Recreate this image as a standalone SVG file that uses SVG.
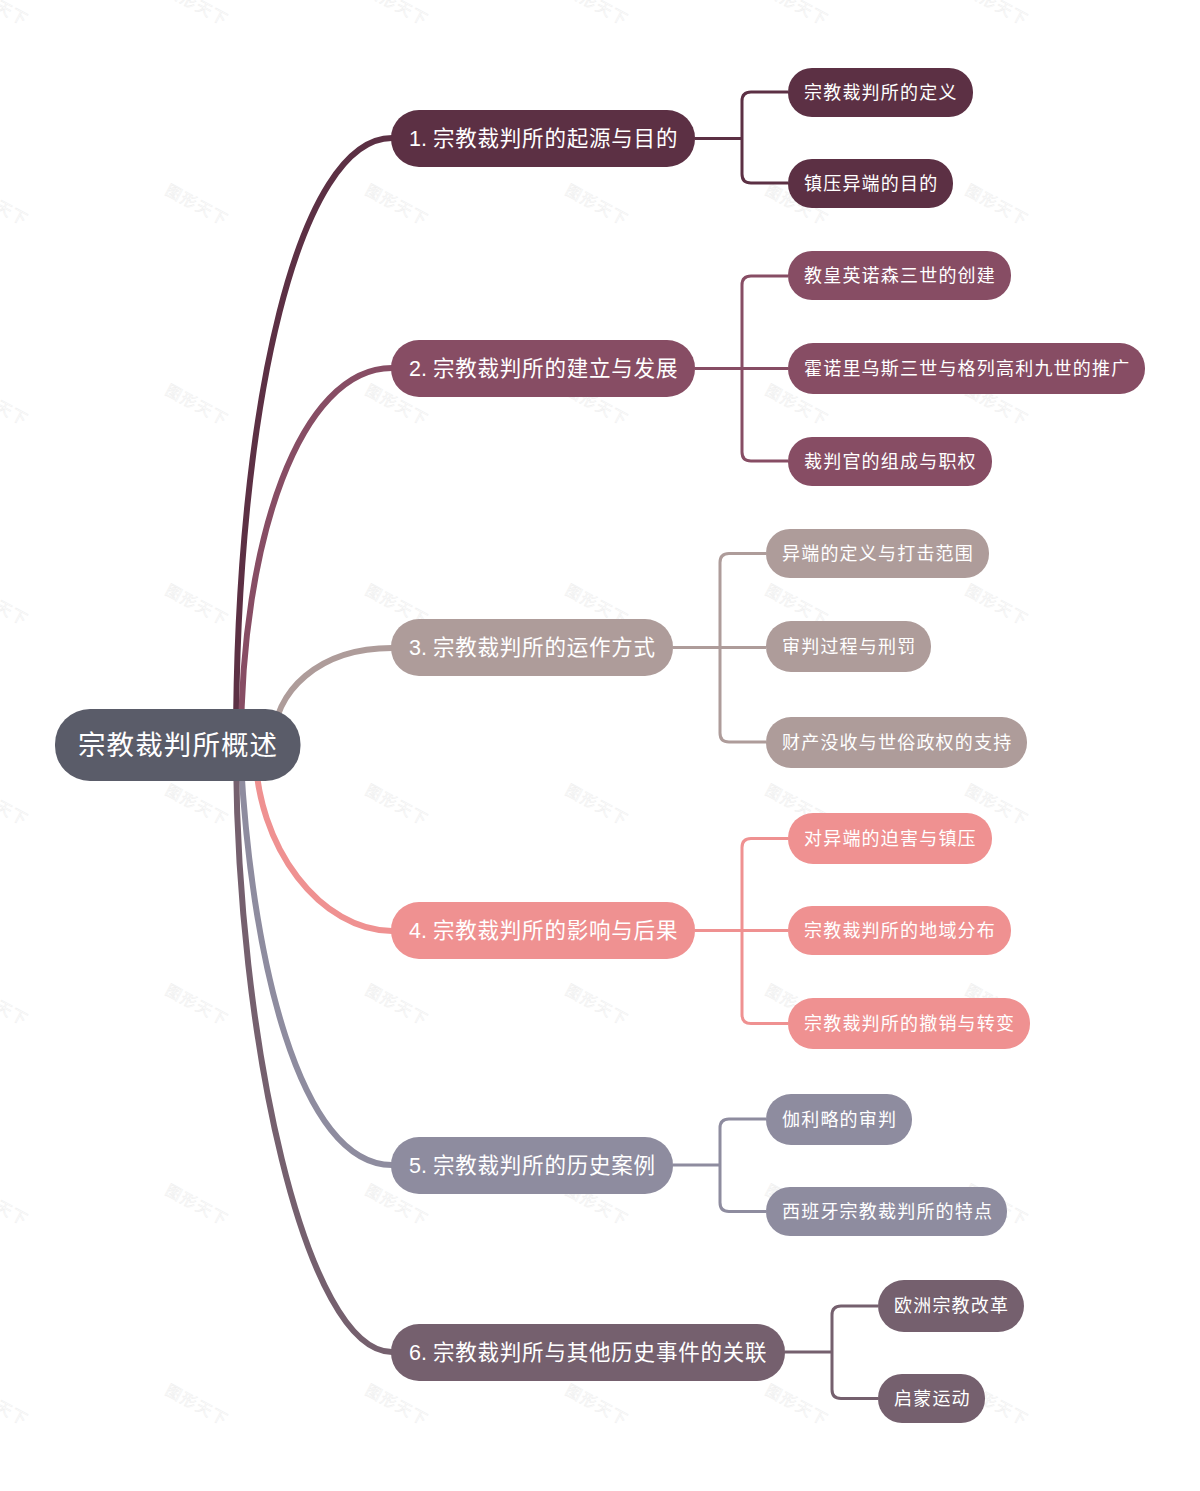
<svg xmlns="http://www.w3.org/2000/svg" width="1200" height="1491" viewBox="0 0 1200 1491">
<style>
text{font-family:"Liberation Sans","Noto Sans CJK SC",sans-serif;fill:#fff;dominant-baseline:central}
.r{font-size:27.5px;letter-spacing:1.1px}
.a{font-size:21.5px}
.a tspan{letter-spacing:.8px}
.b{font-size:18px;letter-spacing:1.2px}
#wmt{font-size:15.500px;fill:#fff;stroke:#eee;stroke-width:.5px;letter-spacing:1.6px;text-anchor:middle}
.c{fill:none;stroke-width:6px}
.e{fill:none;stroke-width:3px}
.c1{fill:#5c3044}.c2{fill:#874d64}.c3{fill:#ae9c9a}.c4{fill:#ef9191}.c5{fill:#8e8c9f}.c6{fill:#75606e}
.s1{stroke:#5c3044}.s2{stroke:#874d64}.s3{stroke:#ae9c9a}.s4{stroke:#ef9191}.s5{stroke:#8e8c9f}.s6{stroke:#75606e}
</style>
<defs>
<text id="wmt" transform="rotate(28)">图形天下</text>
</defs>
<rect width="1200" height="1491" fill="#fff"/>
<g id="watermark">
<use href="#wmt" x="-3" y="5"/><use href="#wmt" x="197" y="5"/><use href="#wmt" x="397" y="5"/><use href="#wmt" x="597" y="5"/><use href="#wmt" x="797" y="5"/><use href="#wmt" x="997" y="5"/>
<use href="#wmt" x="-3" y="205"/><use href="#wmt" x="197" y="205"/><use href="#wmt" x="397" y="205"/><use href="#wmt" x="597" y="205"/><use href="#wmt" x="797" y="205"/><use href="#wmt" x="997" y="205"/>
<use href="#wmt" x="-3" y="405"/><use href="#wmt" x="197" y="405"/><use href="#wmt" x="397" y="405"/><use href="#wmt" x="597" y="405"/><use href="#wmt" x="797" y="405"/><use href="#wmt" x="997" y="405"/>
<use href="#wmt" x="-3" y="605"/><use href="#wmt" x="197" y="605"/><use href="#wmt" x="397" y="605"/><use href="#wmt" x="597" y="605"/><use href="#wmt" x="797" y="605"/><use href="#wmt" x="997" y="605"/>
<use href="#wmt" x="-3" y="805"/><use href="#wmt" x="197" y="805"/><use href="#wmt" x="397" y="805"/><use href="#wmt" x="597" y="805"/><use href="#wmt" x="797" y="805"/><use href="#wmt" x="997" y="805"/>
<use href="#wmt" x="-3" y="1005"/><use href="#wmt" x="197" y="1005"/><use href="#wmt" x="397" y="1005"/><use href="#wmt" x="597" y="1005"/><use href="#wmt" x="797" y="1005"/><use href="#wmt" x="997" y="1005"/>
<use href="#wmt" x="-3" y="1205"/><use href="#wmt" x="197" y="1205"/><use href="#wmt" x="397" y="1205"/><use href="#wmt" x="597" y="1205"/><use href="#wmt" x="797" y="1205"/><use href="#wmt" x="997" y="1205"/>
<use href="#wmt" x="-3" y="1405"/><use href="#wmt" x="197" y="1405"/><use href="#wmt" x="397" y="1405"/><use href="#wmt" x="597" y="1405"/><use href="#wmt" x="797" y="1405"/><use href="#wmt" x="997" y="1405"/>
</g>
<g id="connectors">
<path class="c s1" d="M236 745C236 400 300 138 392 138"/>
<path class="c s2" d="M241 745C241 540 300 368 392 368"/>
<path class="c s3" d="M273 745C273 690 320 648 392 648"/>
<path class="c s4" d="M255 745C255 850 323 931 392 931"/>
<path class="c s5" d="M240 745C250 960 300 1165 392 1165"/>
<path class="c s6" d="M236 745C236 1040 306 1352 392 1352"/>
<path class="e s1" d="M695 138.500H742M788 92H751Q742 92 742 101V174Q742 183 751 183H788"/>
<path class="e s2" d="M695 368.500H788M788 276H751Q742 276 742 285V452Q742 461 751 461H788"/>
<path class="e s3" d="M673 647.500H766M766 553.500H729Q720 553.500 720 562.500V733Q720 742 729 742H766"/>
<path class="e s4" d="M695 930.500H788M788 838.500H751Q742 838.500 742 847.500V1014.500Q742 1023.500 751 1023.500H788"/>
<path class="e s5" d="M673 1165H720M766 1119H729Q720 1119 720 1128V1202.500Q720 1211.500 729 1211.500H766"/>
<path class="e s6" d="M785 1352H832M878 1306H841Q832 1306 832 1315V1389.500Q832 1398.500 841 1398.500H878"/>
</g>
<g id="root"><rect x="55" y="709" width="245.500" height="72" rx="35" fill="#5a5c69"/><text class="r" x="78" y="745">宗教裁判所概述</text></g>
<g id="n1"><rect class="c1" x="391" y="110" width="304" height="57" rx="28"/><text class="a" x="409" y="138.500">1. <tspan>宗教裁判所的起源与目的</tspan></text></g>
<g id="n1-1"><rect class="c1" x="788" y="68" width="185" height="49" rx="24"/><text class="b" x="804" y="92.500">宗教裁判所的定义</text></g>
<g id="n1-2"><rect class="c1" x="788" y="159" width="165" height="49" rx="24"/><text class="b" x="804" y="183.500">镇压异端的目的</text></g>
<g id="n2"><rect class="c2" x="391" y="340" width="304" height="57" rx="28"/><text class="a" x="409" y="368.500">2. <tspan>宗教裁判所的建立与发展</tspan></text></g>
<g id="n2-1"><rect class="c2" x="788" y="251" width="223" height="49" rx="24"/><text class="b" x="804" y="276">教皇英诺森三世的创建</text></g>
<g id="n2-2"><rect class="c2" x="788" y="343" width="357" height="51" rx="25"/><text class="b" x="804" y="369">霍诺里乌斯三世与格列高利九世的推广</text></g>
<g id="n2-3"><rect class="c2" x="788" y="437" width="204" height="49" rx="24"/><text class="b" x="804" y="461.500">裁判官的组成与职权</text></g>
<g id="n3"><rect class="c3" x="391" y="619" width="282" height="57" rx="28"/><text class="a" x="409" y="647.500">3. <tspan>宗教裁判所的运作方式</tspan></text></g>
<g id="n3-1"><rect class="c3" x="766" y="529" width="223" height="49" rx="24"/><text class="b" x="782" y="553.500">异端的定义与打击范围</text></g>
<g id="n3-2"><rect class="c3" x="766" y="621" width="165" height="51" rx="25"/><text class="b" x="782" y="647">审判过程与刑罚</text></g>
<g id="n3-3"><rect class="c3" x="766" y="717" width="261" height="51" rx="25"/><text class="b" x="782" y="743">财产没收与世俗政权的支持</text></g>
<g id="n4"><rect class="c4" x="391" y="902" width="304" height="57" rx="28"/><text class="a" x="409" y="930.500">4. <tspan>宗教裁判所的影响与后果</tspan></text></g>
<g id="n4-1"><rect class="c4" x="788" y="813" width="204" height="51" rx="25"/><text class="b" x="804" y="839">对异端的迫害与镇压</text></g>
<g id="n4-2"><rect class="c4" x="788" y="906" width="223" height="49" rx="24"/><text class="b" x="804" y="930.500">宗教裁判所的地域分布</text></g>
<g id="n4-3"><rect class="c4" x="788" y="998" width="242" height="51" rx="25"/><text class="b" x="804" y="1024">宗教裁判所的撤销与转变</text></g>
<g id="n5"><rect class="c5" x="391" y="1137" width="282" height="57" rx="28"/><text class="a" x="409" y="1165.500">5. <tspan>宗教裁判所的历史案例</tspan></text></g>
<g id="n5-1"><rect class="c5" x="766" y="1094" width="146" height="51" rx="25"/><text class="b" x="782" y="1120">伽利略的审判</text></g>
<g id="n5-2"><rect class="c5" x="766" y="1187" width="241" height="49" rx="24"/><text class="b" x="782" y="1211.500">西班牙宗教裁判所的特点</text></g>
<g id="n6"><rect class="c6" x="391" y="1324" width="394" height="57" rx="28"/><text class="a" x="409" y="1352.500">6. <tspan>宗教裁判所与其他历史事件的关联</tspan></text></g>
<g id="n6-1"><rect class="c6" x="878" y="1280" width="146" height="52" rx="26"/><text class="b" x="894" y="1306">欧洲宗教改革</text></g>
<g id="n6-2"><rect class="c6" x="878" y="1374" width="107" height="49" rx="24"/><text class="b" x="894" y="1398.500">启蒙运动</text></g>
</svg>
